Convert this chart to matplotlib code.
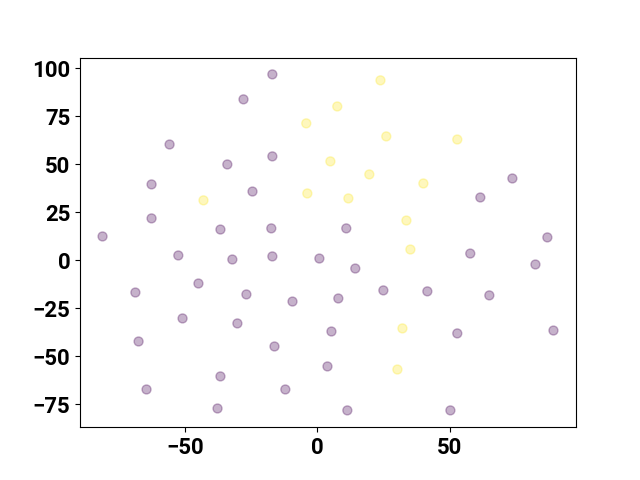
import matplotlib
matplotlib.use("Agg")
import matplotlib.pyplot as plt
import numpy as np

plt.rcParams['font.family'] = ['Roboto', 'DejaVu Sans']
plt.rcParams['font.weight'] = 'bold'

purple_x = [-17.0, -27.9, -55.8, -34.0, -17.0, -62.6, -24.5, -62.6, -81.1, -36.6,
            -17.4, -52.5, -32.1, -17.0, 0.75, 10.9, 14.3, -44.9, -68.7, -26.8,
            -9.4, 7.9, 24.9, 41.5, 64.9, -50.9, -30.2, 5.3, -67.5, -16.2,
            52.8, 89.1, 3.8, -36.6, -64.5, -12.1, -37.7, 11.3, 50.2, 73.6,
            61.5, 57.7, 86.8, 82.3]
purple_y = [96.9, 83.9, 60.4, 50.0, 54.2, 39.6, 35.9, 21.9, 12.5, 16.1,
            16.7, 2.6, 0.5, 2.1, 1.0, 16.7, -4.2, -12.0, -16.7, -17.7,
            -21.4, -19.8, -15.6, -16.1, -18.2, -30.2, -32.8, -37.0, -42.2, -44.8,
            -38.0, -36.5, -55.2, -60.4, -67.2, -67.2, -77.1, -78.1, -78.1, 42.7,
            32.8, 3.6, 12.0, -2.1]
yellow_x = [23.8, 7.5, -4.2, 26.0, 52.8, 4.9, 19.6, 40.0, -3.8, 11.7, -43.0, 33.6, 35.1, 32.1, 30.2]
yellow_y = [93.8, 80.2, 71.4, 64.6, 63.0, 51.6, 44.8, 40.1, 34.9, 32.3, 31.3, 20.8, 5.7, -35.4, -56.8]

x = np.array(purple_x + yellow_x)
y = np.array(purple_y + yellow_y)
c = np.array([0] * len(purple_x) + [1] * len(yellow_x))

fig, ax = plt.subplots(figsize=(6.4, 4.8), dpi=100)
ax.scatter(x, y, c=c, cmap='viridis', alpha=0.3, s=42)
ax.tick_params(labelsize=16)
for lab in ax.get_xticklabels() + ax.get_yticklabels():
    lab.set_fontweight('bold')
fig.savefig("out.png", dpi=100)
